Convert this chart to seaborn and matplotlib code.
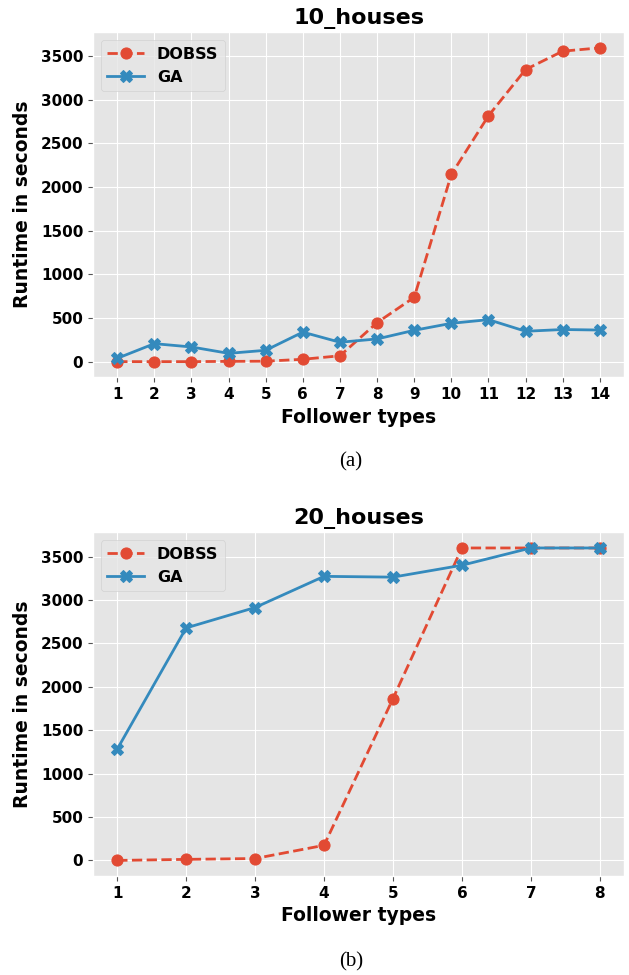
"""Runtime comparison DOBSS vs GA for 10 and 20 houses."""

import numpy as np
import pandas as pd
import matplotlib
matplotlib.use("Agg")
import matplotlib.pyplot as plt
import seaborn as sns

# 10 houses
followers_10 = list(range(1, 15))
dobss_10 = [0, 0, 0, 3, 5, 27, 67, 447, 737, 2145, 2817, 3347, 3557, 3595]
ga_10 = [38, 206, 168, 95, 130, 338, 222, 260, 359, 439, 481, 348, 368, 362]

# 20 houses
followers_20 = list(range(1, 9))
dobss_20 = [0, 12, 22, 174, 1865, 3600, 3600, 3600]
ga_20 = [1282, 2679, 2914, 3273, 3264, 3401, 3600, 3600]

RED = "#E24A33"
BLUE = "#348ABD"

plt.style.use("ggplot")
plt.rcParams["font.family"] = ["DejaVu Sans"]

fig = plt.figure(figsize=(6.29, 9.75), dpi=100)
ax_top = fig.add_axes([0.148, 0.613, 0.844, 0.354])
ax_bot = fig.add_axes([0.148, 0.1015, 0.844, 0.3525])

panels = [
    (ax_top, followers_10, dobss_10, ga_10, "10_houses", "(a)", 0.516),
    (ax_bot, followers_20, dobss_20, ga_20, "20_houses", "(b)", 0.004),
]

for ax, xs, dobss, ga, title, caption, cap_y in panels:
    df = pd.DataFrame({"x": xs, "DOBSS": dobss, "GA": ga})
    sns.lineplot(data=df, x="x", y="DOBSS", ax=ax, color=RED, linestyle="--",
                 marker="o", markersize=8, markeredgecolor=RED,
                 linewidth=2, label="DOBSS")
    sns.lineplot(data=df, x="x", y="GA", ax=ax, color=BLUE, linestyle="-",
                 marker="X", markersize=8, markeredgecolor=BLUE,
                 linewidth=2, label="GA")
    ax.set_xticks(xs)
    ax.set_yticks(np.arange(0, 3501, 500))
    ax.set_title(title, fontsize=16, fontweight="bold", color="black", pad=6)
    ax.set_xlabel("Follower types", fontsize=13.5, fontweight="bold",
                  color="black", labelpad=4)
    ax.set_ylabel("Runtime in seconds", fontsize=13.5, fontweight="bold",
                  color="black", labelpad=6)
    ax.tick_params(axis="both", labelsize=11, labelcolor="black")
    for lbl in ax.get_xticklabels() + ax.get_yticklabels():
        lbl.set_fontweight("bold")
    leg = ax.legend(loc="upper left", prop={"weight": "bold", "size": 11.5},
                    handlelength=2.3)
    fig.text(0.558, cap_y, caption, ha="center", va="bottom",
             fontsize=15, family="Liberation Serif")

fig.savefig("out.png", dpi=100)
